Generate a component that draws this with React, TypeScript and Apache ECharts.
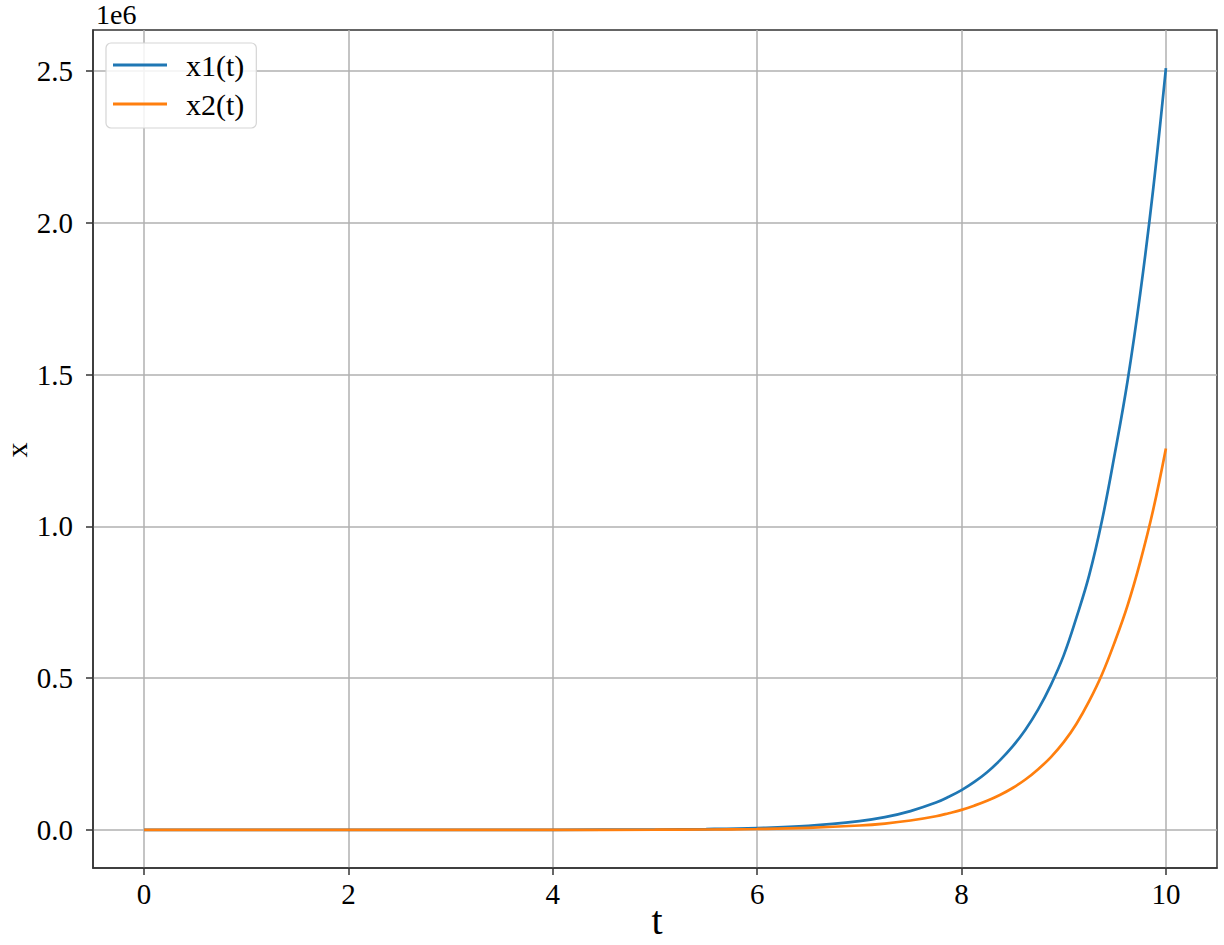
import React, { useEffect, useRef } from "react";
import * as echarts from "echarts";

const tValues = [0, 1, 2, 3, 4, 5, 5.5, 6, 6.5, 7, 7.25, 7.5, 7.75, 7.875, 8, 8.125, 8.25, 8.375, 8.5, 8.625, 8.75, 8.875, 9, 9.125, 9.25, 9.375, 9.5, 9.625, 9.75, 9.875, 10];
const x1Values = [0.8, 3.5, 15, 66, 290, 1300, 2800, 6200, 13500, 29000, 42000, 62000, 90000, 109000, 131000, 158000, 190000, 229000, 275000, 330000, 397000, 478000, 575000, 700000, 840000, 1020000, 1240000, 1480000, 1770000, 2110000, 2510000];
const x2Values = [0.4, 1.8, 7.5, 33, 145, 650, 1400, 3100, 6800, 14500, 21000, 31000, 45000, 55000, 66000, 80000, 96000, 115000, 138000, 166000, 200000, 240000, 289000, 350000, 425000, 513000, 620000, 740000, 885000, 1054000, 1257000];
const xTickValues = [0, 2, 4, 6, 8, 10];
const yTickValues = [0, 500000, 1000000, 1500000, 2000000, 2500000];
const seriesNames = ["x1(t)", "x2(t)"];
const xAxisTitle = "t";
const yAxisTitle = "x";
const yScaleText = "1e6";

const FONT = "'Liberation Serif', 'DejaVu Serif', serif";

export default function App() {
  const ref = useRef<HTMLDivElement>(null);
  useEffect(() => {
    const chart = echarts.init(ref.current!, null, { renderer: "svg" });
    const axisLineStyle = { color: "#333", width: 1.5 };
    const gridLine = { show: true, lineStyle: { color: "#b0b0b0", width: 1.5 } };
    chart.setOption({
      animation: false,
      backgroundColor: "#fff",
      grid: {
        left: 93,
        top: 30,
        width: 1124,
        height: 838,
        containLabel: false,
        outerBoundsMode: "none",
        show: true,
        borderColor: "#333",
        borderWidth: 1.5,
        backgroundColor: "transparent",
      },
      legend: {
        orient: "vertical",
        left: 106,
        top: 43,
        backgroundColor: "rgba(255,255,255,0.85)",
        borderColor: "#d5d5d5",
        borderWidth: 1.2,
        borderRadius: 5,
        padding: [7, 12, 9, 7],
        itemGap: 9,
        itemWidth: 54,
        itemHeight: 3,
        icon: "rect",
        textStyle: { fontFamily: FONT, fontSize: 30, color: "#000", padding: [0, 0, 0, 14] },
        data: seriesNames,
      },
      xAxis: {
        type: "value",
        min: -0.5,
        max: 10.5,
        axisLine: { show: true, onZero: false, lineStyle: axisLineStyle },
        axisTick: { show: true, length: 7, lineStyle: axisLineStyle, customValues: xTickValues },
        axisLabel: {
          fontFamily: FONT,
          fontSize: 29,
          color: "#000",
          margin: 11,
          customValues: xTickValues,
          formatter: (v: number) => String(v),
        },
        splitLine: gridLine,
      },
      yAxis: {
        type: "value",
        min: -125500,
        max: 2635500,
        axisLine: { show: true, onZero: false, lineStyle: axisLineStyle },
        axisTick: { show: true, length: 7, lineStyle: axisLineStyle, customValues: yTickValues },
        axisLabel: {
          fontFamily: FONT,
          fontSize: 29,
          color: "#000",
          margin: 20,
          customValues: yTickValues,
          formatter: (v: number) => (v / 1e6).toFixed(1),
        },
        splitLine: gridLine,
      },
      graphic: [
        {
          type: "text",
          left: 96,
          top: 0,
          style: { text: yScaleText, fontFamily: FONT, fontSize: 28, fill: "#000" },
        },
        {
          type: "text",
          x: 657,
          y: 920,
          style: {
            text: xAxisTitle,
            fontFamily: FONT,
            fontSize: 40,
            fill: "#000",
            align: "center",
            verticalAlign: "middle",
          },
        },
        {
          type: "text",
          x: 16,
          y: 450,
          rotation: Math.PI / 2,
          style: {
            text: yAxisTitle,
            fontFamily: FONT,
            fontSize: 30,
            fill: "#000",
            align: "center",
            verticalAlign: "middle",
          },
        },
      ],
      series: [
        {
          name: seriesNames[0],
          type: "line",
          data: tValues.map((t, i) => [t, x1Values[i]]),
          showSymbol: false,
          symbol: "none",
          smooth: 0.4,
          color: "#1f77b4",
          lineStyle: { color: "#1f77b4", width: 2.7 },
          z: 3,
        },
        {
          name: seriesNames[1],
          type: "line",
          data: tValues.map((t, i) => [t, x2Values[i]]),
          showSymbol: false,
          symbol: "none",
          smooth: 0.4,
          color: "#ff7f0e",
          lineStyle: { color: "#ff7f0e", width: 2.7 },
          z: 4,
        },
      ],
    });
    return () => chart.dispose();
  }, []);
  return (
    <div
      ref={ref}
      style={{ position: "absolute", left: 0, top: 0, width: 1224, height: 945 }}
    />
  );
}
